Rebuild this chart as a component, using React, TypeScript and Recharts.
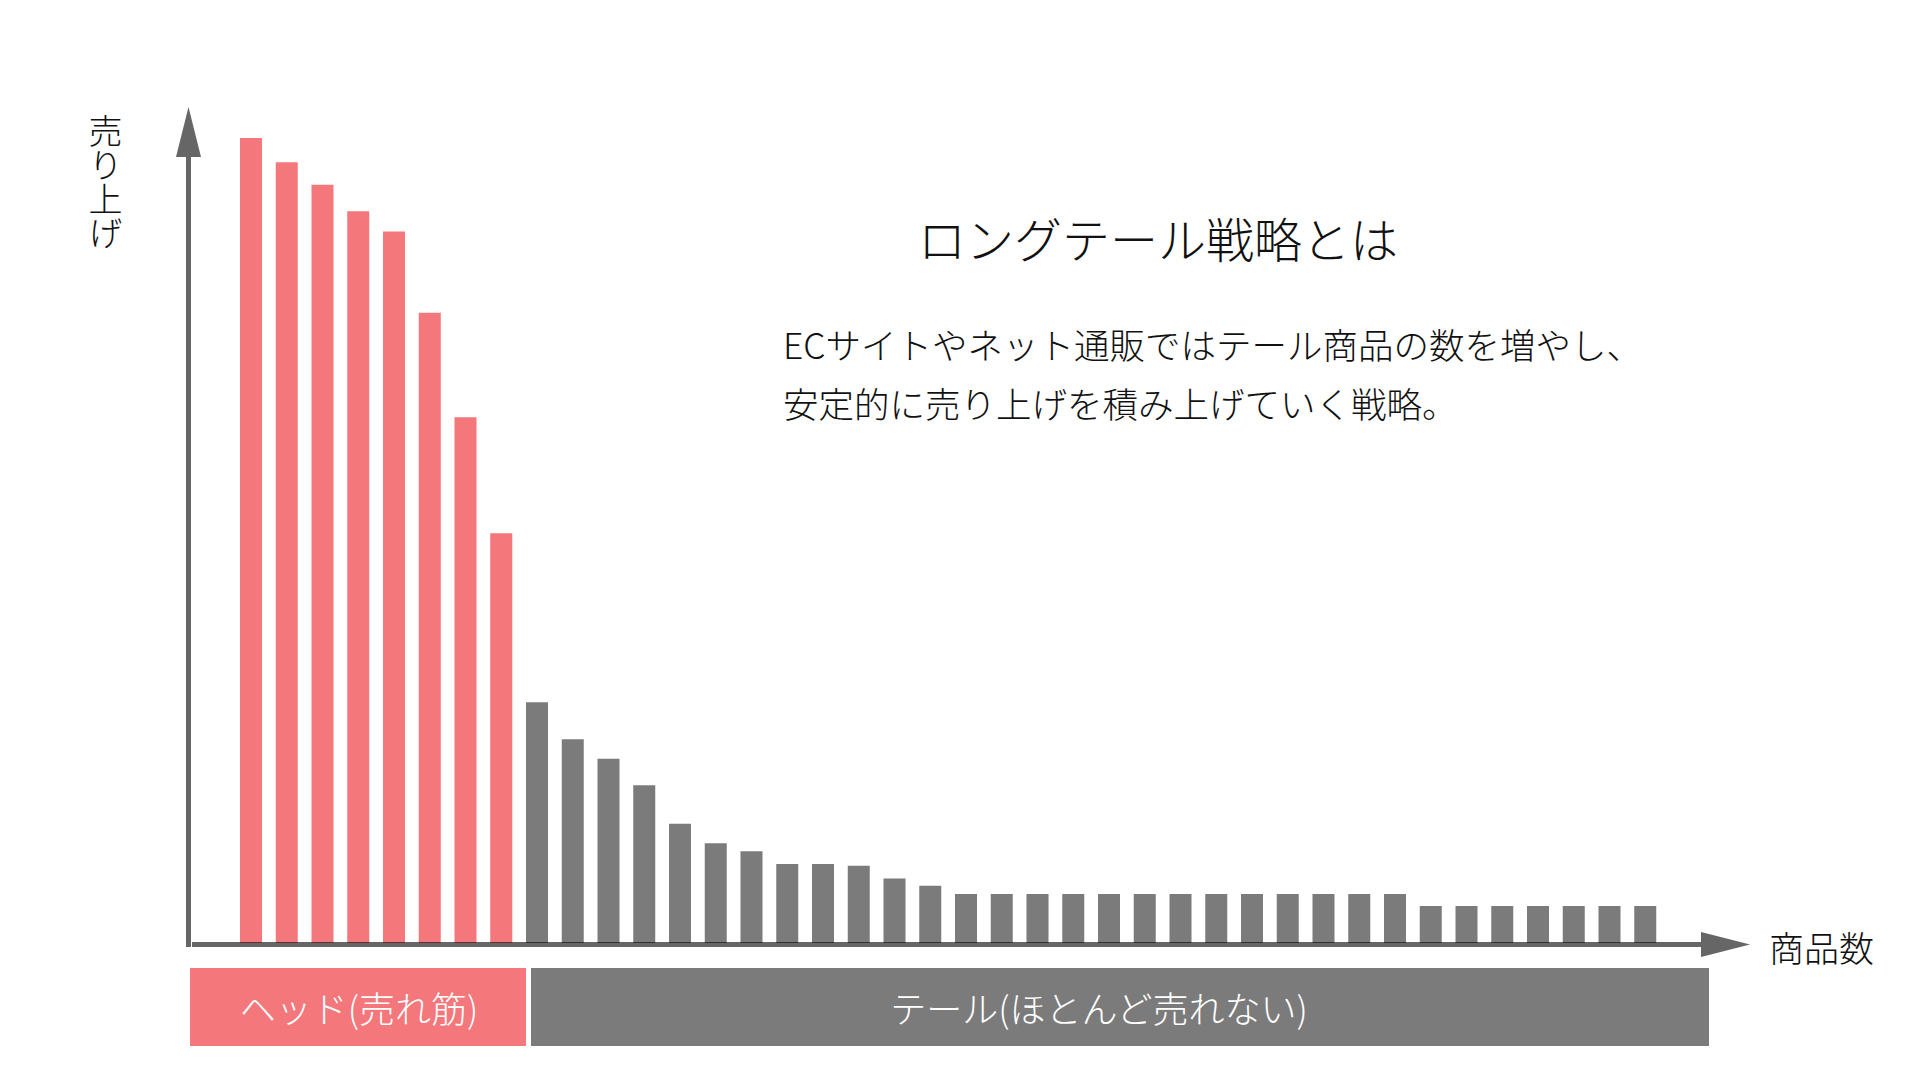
import React from 'react';
import { BarChart, Bar, XAxis, YAxis, Cell } from 'recharts';

// 売れ筋(ヘッド)と、ほとんど売れない(テール)商品の売り上げ（相対値）
const headSales = [100, 97.0, 94.2, 90.9, 88.4, 78.3, 65.3, 50.9];
const tailSales = [
  29.9, 25.3, 22.9, 19.6, 14.8, 12.4, 11.4, 9.8, 9.8, 9.6, 8.0, 7.1,
  6.1, 6.1, 6.1, 6.1, 6.1, 6.1, 6.1, 6.1, 6.1, 6.1, 6.1, 6.1, 6.1,
  4.6, 4.6, 4.6, 4.6, 4.6, 4.6, 4.6,
];

const title = 'ロングテール戦略とは';
const bodyLines = [
  'ECサイトやネット通販ではテール商品の数を増やし、',
  '安定的に売り上げを積み上げていく戦略。',
];
const yLabel = '売り上げ';
const xLabel = '商品数';
const headLabel = 'ヘッド(売れ筋)';
const tailLabel = 'テール(ほとんど売れない)';

const RED = '#f3777b';
const GRAY = '#7b7b7b';
const AXIS = '#666666';
const FONT = '"Noto Sans CJK JP", "Noto Sans", sans-serif';

const data = [
  ...headSales.map((v, i) => ({ rank: String(i + 1), sales: v, group: 'head' })),
  ...tailSales.map((v, i) => ({ rank: String(headSales.length + i + 1), sales: v, group: 'tail' })),
];

const App: React.FC = () => {
  return (
    <div style={{ position: 'absolute', left: 0, top: 0, width: 1920, height: 1080, background: '#fff', fontFamily: FONT }}>
      <BarChart
        width={1920}
        height={1080}
        data={data}
        margin={{ top: 138, right: 257, bottom: 137, left: 233 }}
        barSize={22}
      >
        <XAxis dataKey="rank" hide />
        <YAxis hide domain={[0, 100]} />
        <Bar dataKey="sales" isAnimationActive={false}>
          {data.map((d) => (
            <Cell key={d.rank} fill={d.group === 'head' ? RED : GRAY} />
          ))}
        </Bar>
      </BarChart>

      <svg width={1920} height={1080} style={{ position: 'absolute', left: 0, top: 0 }}>
        {/* 軸と矢印 */}
        <line x1={188.5} y1={155} x2={188.5} y2={947} stroke={AXIS} strokeWidth={5} />
        <polygon points="188.5,107 176,157 201,157" fill={AXIS} />
        <line x1={192} y1={944.5} x2={1703} y2={944.5} stroke="rgba(0,0,0,0.6)" strokeWidth={5} />
        <polygon points="1750,944.5 1701,932 1701,957" fill={AXIS} />

        {/* ヘッド / テール の帯 */}
        <rect x={190} y={968} width={336} height={78} fill={RED} />
        <rect x={531} y={968} width={1178} height={78} fill={GRAY} />
        <text x={359} y={1007} fill="#fff" fontSize={36} fontWeight={300} textAnchor="middle" dominantBaseline="central">
          {headLabel}
        </text>
        <text x={1099} y={1007} fill="#fff" fontSize={36} fontWeight={300} textAnchor="middle" dominantBaseline="central">
          {tailLabel}
        </text>

        <text x={1769} y={946} fill="#111" fontSize={35} fontWeight={300} dominantBaseline="central">
          {xLabel}
        </text>

        <text x={1158} y={237} fill="#111" fontSize={48} fontWeight={300} textAnchor="middle" dominantBaseline="central">
          {title}
        </text>
        {bodyLines.map((line, i) => (
          <text key={i} x={783} y={343 + i * 59} fill="#111" fontSize={35.5} fontWeight={300} dominantBaseline="central">
            {line}
          </text>
        ))}
      </svg>

      <div
        style={{
          position: 'absolute',
          left: 88,
          top: 114,
          writingMode: 'vertical-rl',
          fontSize: 34,
          lineHeight: 1,
          fontWeight: 300,
          color: '#111',
        }}
      >
        {yLabel}
      </div>
    </div>
  );
};

export default App;
